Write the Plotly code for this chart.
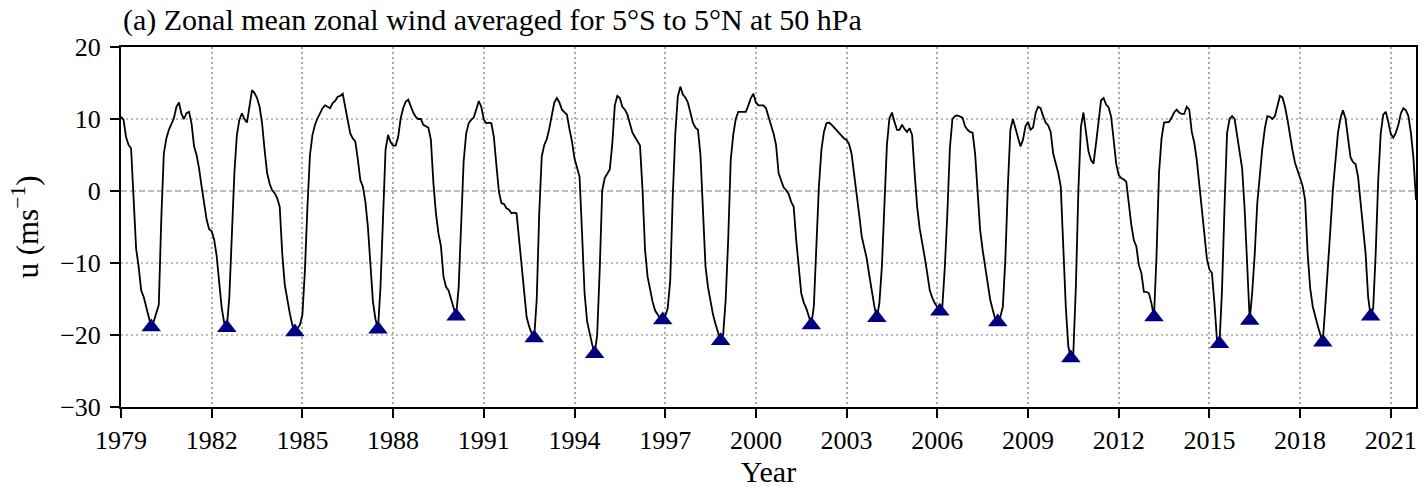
import numpy as np
import plotly.graph_objects as go

# ---------------- data (monthly) ----------------
start_year = 1979
u_50hpa = [
    # 1979
    10.3, 9.9, 7.5, 6.4, 5.9, -1.5, -8.0, -10.5, -13.8, -14.7, -16.0, -17.7,
    # 1980
    -18.9, -18.1, -17.0, -15.8, -3.8, 5.2, 7.3, 8.5, 9.3, 10.1, 11.7, 12.3,
    # 1981
    10.7, 10.0, 10.8, 11.0, 9.4, 6.2, 5.0, 3.1, 0.6, -1.7, -4.0, -5.3,
    # 1982
    -5.6, -6.8, -9.1, -12.8, -16.3, -18.4, -19.0, -14.7, -6.3, 2.5, 7.8, 9.9,
    # 1983
    10.8, 10.0, 9.5, 11.9, 14.0, 13.6, 12.9, 11.7, 9.4, 5.7, 2.5, 1.0,
    # 1984
    0.1, -0.3, -1.0, -2.2, -8.7, -13.0, -15.1, -17.0, -18.6, -19.6, -19.1, -18.6,
    # 1985
    -17.2, -11.0, -2.2, 5.0, 7.8, 9.2, 10.1, 10.8, 11.5, 11.9, 11.7, 11.5,
    # 1986
    12.2, 12.5, 13.1, 13.2, 13.5, 11.7, 9.4, 8.0, 7.3, 6.9, 4.4, 1.5,
    # 1987
    0.6, -1.5, -5.0, -11.0, -15.4, -17.8, -19.2, -13.3, -4.3, 5.7, 7.8, 6.8,
    # 1988
    6.3, 6.3, 7.5, 10.1, 11.5, 12.4, 12.7, 11.7, 10.9, 10.3, 10.0, 10.0,
    # 1989
    9.2, 9.0, 8.8, 7.1, 1.1, -3.1, -5.9, -7.7, -11.9, -13.3, -13.8, -15.0,
    # 1990
    -16.2, -17.4, -13.5, -4.5, 4.1, 8.0, 9.4, 9.9, 10.2, 11.3, 12.5, 11.7,
    # 1991
    9.9, 9.4, 9.5, 9.4, 7.5, 3.6, -0.1, -1.7, -1.8, -2.4, -2.6, -3.1,
    # 1992
    -3.0, -3.1, -6.6, -10.0, -14.0, -17.5, -18.8, -19.8, -20.4, -15.1, -3.1, 4.8,
    # 1993
    6.4, 7.2, 8.7, 10.8, 12.3, 12.9, 12.3, 11.3, 11.0, 10.6, 8.6, 6.9,
    # 1994
    4.5, 3.2, 2.0, -5.9, -14.2, -18.1, -19.8, -21.3, -22.6, -20.0, -11.0, 0.1,
    # 1995
    1.8, 2.5, 3.0, 6.5, 11.9, 13.2, 12.9, 11.7, 11.3, 10.6, 9.4, 8.1,
    # 1996
    7.5, 6.9, 6.3, 0.1, -8.2, -11.9, -13.9, -15.4, -16.6, -17.1, -17.7, -17.9,
    # 1997
    -17.4, -16.3, -12.4, -0.8, 7.9, 13.1, 14.5, 13.4, 13.0, 12.3, 10.9, 9.5,
    # 1998
    8.8, 8.5, 5.0, -3.1, -10.5, -13.4, -15.4, -17.2, -18.5, -19.6, -20.8, -20.0,
    # 1999
    -15.1, -6.8, 4.3, 7.8, 10.0, 11.0, 11.0, 10.9, 11.0, 11.9, 12.9, 13.5,
    # 2000
    12.3, 11.9, 11.9, 11.9, 11.5, 10.4, 9.2, 8.0, 6.4, 2.5, 1.5, 0.5,
    # 2001
    0.1, -0.4, -1.5, -2.2, -6.8, -11.0, -14.2, -15.5, -16.3, -17.4, -18.6, -16.0,
    # 2002
    -7.7, 0.6, 5.7, 8.2, 9.4, 9.5, 9.2, 8.8, 8.5, 8.1, 7.6, 7.3,
    # 2003
    7.1, 6.5, 5.1, 2.5, -0.1, -3.3, -6.3, -7.7, -9.4, -11.7, -14.0, -16.0,
    # 2004
    -17.6, -15.6, -10.5, -1.25, 6.4, 10.1, 10.9, 9.6, 8.5, 8.5, 9.2, 8.6,
    # 2005
    8.2, 8.7, 7.8, 2.5, -2.2, -5.2, -7.5, -9.2, -11.4, -13.8, -14.8, -15.6,
    # 2006
    -16.1, -16.7, -16.1, -10.5, -3.0, 6.0, 10.0, 10.4, 10.5, 10.4, 10.2, 9.0,
    # 2007
    8.5, 8.2, 8.1, 5.2, -0.6, -5.4, -8.2, -10.5, -12.6, -15.1, -16.5, -17.8,
    # 2008
    -18.2, -17.5, -16.1, -9.6, 0.6, 8.5, 10.0, 8.7, 7.3, 6.2, 7.1, 9.0,
    # 2009
    9.6, 8.5, 8.8, 10.8, 11.7, 11.5, 10.4, 9.5, 9.1, 8.2, 5.2, 3.8,
    # 2010
    2.5, 0.6, -8.7, -16.1, -21.6, -23.2, -22.5, -13.3, 0.1, 8.9, 10.9, 8.0,
    # 2011
    5.5, 4.3, 3.8, 6.6, 9.9, 12.6, 12.9, 12.0, 11.6, 10.3, 7.1, 3.8,
    # 2012
    2.2, 1.8, 1.6, 1.3, -1.7, -4.7, -6.8, -7.7, -10.3, -11.4, -14.0, -14.0,
    # 2013
    -14.2, -15.6, -17.5, -9.1, 2.5, 7.3, 9.5, 9.5, 9.6, 10.2, 10.9, 11.3,
    # 2014
    10.9, 10.7, 10.7, 11.7, 11.3, 8.2, 6.7, 4.3, 0.8, -3.3, -6.6, -9.4,
    # 2015
    -10.9, -11.4, -15.6, -20.7, -21.2, -13.8, -2.2, 8.0, 10.0, 10.4, 10.0, 7.9,
    # 2016
    5.7, 3.1, -2.6, -10.0, -18.0, -14.0, -8.7, -1.7, 2.7, 5.9, 8.7, 10.4,
    # 2017
    10.3, 10.0, 10.4, 11.9, 13.2, 13.0, 11.7, 9.9, 7.4, 5.6, 3.9, 2.7,
    # 2018
    1.8, 0.7, -1.25, -8.7, -13.5, -16.0, -17.5, -18.7, -19.9, -21.0, -16.0, -9.8,
    # 2019
    -5.4, 0.1, 4.5, 8.0, 10.1, 11.2, 10.1, 7.5, 4.7, 4.0, 3.75, 2.0,
    # 2020
    -1.9, -5.2, -8.7, -14.7, -17.4, -16.3, -8.7, 1.5, 8.0, 10.6, 11.0, 9.6,
    # 2021 (Jan-Nov)
    7.9, 7.4, 8.1, 9.2, 10.8, 11.5, 11.2, 10.4, 8.0, 4.5, -1.25,
]
x_tick_years = list(range(1979, 2022, 3))
y_ticks = [-30, -20, -10, 0, 10, 20]
title_text = "(a) Zonal mean zonal wind averaged for 5°S to 5°N at 50 hPa"
x_label = "Year"
y_label = "u (ms<sup>−1</sup>)"

# ---------------- derived ----------------
u = np.array(u_50hpa, dtype=float)
t = start_year + np.arange(len(u)) / 12.0

# minimum of each easterly (negative) phase
idx_min = []
i, n = 0, len(u)
while i < n:
    if u[i] < 0:
        j = i
        while j < n and u[j] < 0:
            j += 1
        seg = u[i:j]
        if seg.min() < -10:
            idx_min.append(i + int(np.argmin(seg)))
        i = j
    else:
        i += 1
idx_min = np.array(idx_min)

FONT = "Liberation Serif, Times New Roman, serif"
GRID = "#a8a8a8"

fig = go.Figure()
fig.add_trace(go.Scatter(x=t, y=u, mode="lines",
                         line=dict(color="black", width=1.8),
                         showlegend=False, hoverinfo="skip"))
fig.add_trace(go.Scatter(x=t[idx_min], y=u[idx_min], mode="markers",
                         marker=dict(symbol="triangle-up", size=17, color="#000080",
                                     line=dict(width=0)),
                         showlegend=False))

# horizontal grid lines (dotted; dashed at zero)
for v in y_ticks[1:-1]:
    fig.add_shape(type="line", xref="paper", x0=0, x1=1, yref="y", y0=v, y1=v,
                  line=dict(color=GRID, width=1.5,
                            dash="6px,3px" if v == 0 else "2px,3px"),
                  layer="below")

axis_common = dict(
    showline=True, linecolor="black", linewidth=2, mirror=True,
    ticks="outside", ticklen=9, tickwidth=2, tickcolor="black",
    tickfont=dict(family=FONT, size=26, color="black"),
    zeroline=False,
)

fig.update_xaxes(
    range=[t[0], t[-1]], tickmode="array", tickvals=x_tick_years,
    ticktext=[str(y) for y in x_tick_years],
    showgrid=True, gridcolor=GRID, gridwidth=1.5, griddash="2px,3px",
    title=dict(text=x_label, font=dict(family=FONT, size=30, color="black"), standoff=6),
    **axis_common,
)
fig.update_yaxes(
    range=[y_ticks[0], y_ticks[-1]], tickmode="array", tickvals=y_ticks,
    showgrid=False, ticklabelstandoff=4,
    title=dict(text=y_label, font=dict(family=FONT, size=31, color="black"), standoff=12),
    **axis_common,
)

fig.add_annotation(text=title_text, xref="paper", yref="paper", x=0, y=1,
                   xanchor="left", yanchor="middle", xshift=0, yshift=27,
                   showarrow=False, font=dict(family=FONT, size=30, color="black"))

fig.update_layout(
    width=1423, height=490,
    margin=dict(l=121, r=5, t=47, b=83),
    paper_bgcolor="white", plot_bgcolor="white",
    font=dict(family=FONT, color="black"),
)

fig.write_html("out.html")
